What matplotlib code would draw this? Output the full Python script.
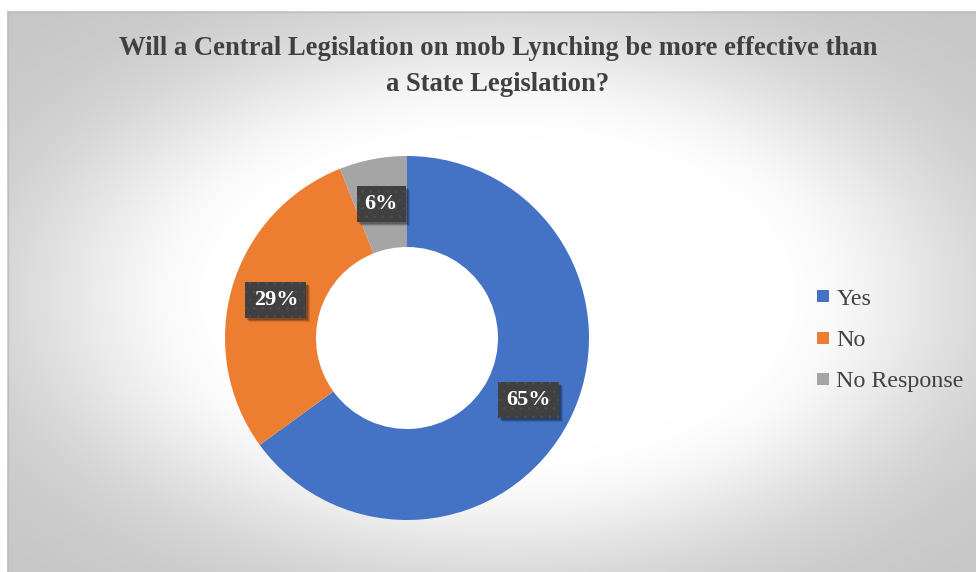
import numpy as np
import matplotlib
matplotlib.use("Agg")
import matplotlib.pyplot as plt
from matplotlib.lines import Line2D
from matplotlib.patches import Rectangle
from matplotlib.transforms import IdentityTransform

categories = ["Yes", "No", "No Response"]
shares = [65, 29, 6]
colors = ["#4472C4", "#ED7D31", "#A5A5A5"]
title_lines = ["Will a Central Legislation on mob Lynching be more effective than",
               "a State Legislation?"]

plt.rcParams["hatch.linewidth"] = 0.6

W, H = 976, 572
fig = plt.figure(figsize=(W / 100, H / 100), dpi=100)
fig.patch.set_facecolor("white")

# radial grey-to-white backdrop of the chart area
bg = fig.add_axes([0, 0, 1, 1])
bg.axis("off")
x0, y0, x1, y1 = 7, 11, 990, 582
cx, cy = (x0 + x1) / 2, (y0 + y1) / 2
xx, yy = np.meshgrid(np.arange(x0, x1) + 0.5, np.arange(y0, y1) + 0.5)
d = np.sqrt(((xx - cx) / ((x1 - x0) / 2)) ** 2 + ((yy - cy) / ((y1 - y0) / 2)) ** 2)
drop = 57 * (1 - np.exp(-np.clip((d - 0.55) / 0.42, 0, None) ** 2))
g = (255 - drop) / 255.0
img = np.dstack([g, g, g])
bg.imshow(img, extent=(x0, x1, y1, y0), interpolation="bilinear", zorder=0)
bg.plot([x0 + 0.5, x0 + 0.5, x1], [y1, y0 + 0.5, y0 + 0.5], color="#bfbfbf", lw=1, zorder=1)
bg.set_xlim(0, W)
bg.set_ylim(H, 0)

# donut
pcx, pcy, r = 407, 338, 182
ax = fig.add_axes([(pcx - r) / W, (H - pcy - r) / H, 2 * r / W, 2 * r / H])
wedges, _ = ax.pie(shares, colors=colors, startangle=90, counterclock=False,
                   radius=1.0, wedgeprops=dict(width=0.5, linewidth=0))
ax.set_xlim(-1, 1)
ax.set_ylim(-1, 1)
ax.set_aspect("equal")
ax.axis("off")

# value labels in dark boxes at the ring's mid radius
total = sum(shares)
start = 90.0
labels = []
for val_ in shares:
    mid = np.deg2rad(start - 360.0 * val_ / total / 2)
    start -= 360.0 * val_ / total
    t = ax.text(0.75 * np.cos(mid), 0.75 * np.sin(mid), f"{val_}%",
                ha="center", va="center", fontsize=16, fontweight="bold",
                family="Liberation Serif", color="white", zorder=4,
                bbox=dict(boxstyle="square,pad=0.37", facecolor="#404040",
                          edgecolor="#4e4e4e", linewidth=0, hatch=".."))
    labels.append(t)

# soft drop shadow behind each label box
fig.canvas.draw()
renderer = fig.canvas.get_renderer()
for t in labels:
    bb = t.get_bbox_patch().get_window_extent(renderer)
    for (ox, oy, a) in [(4, -4, 0.12), (3, -3, 0.18), (2, -2, 0.2)]:
        ax.add_patch(Rectangle((bb.x0 + ox, bb.y0 + oy), bb.width, bb.height,
                               transform=IdentityTransform(), facecolor=(0, 0, 0, a),
                               linewidth=0, zorder=3, clip_on=False))

# title
for line, yb in zip(title_lines, [55, 91]):
    fig.text(498 / W, 1 - yb / H, line, ha="center", va="baseline",
             fontsize=19.2, fontweight="bold", family="Liberation Serif", color="#404040")

# legend
handles = [Line2D([], [], marker="s", linestyle="none", markersize=8,
                  markerfacecolor=c, markeredgewidth=0) for c in colors]
leg = fig.legend(handles, categories, loc="center left",
                 bbox_to_anchor=(816 / W, 1 - 340 / H), frameon=False,
                 prop=dict(family="Liberation Serif", size=17.3),
                 handlelength=0.6, handletextpad=0.25, labelspacing=0.8,
                 borderaxespad=0, borderpad=0)
for txt in leg.get_texts():
    txt.set_color("#404040")

fig.savefig("out.png", dpi=100)
